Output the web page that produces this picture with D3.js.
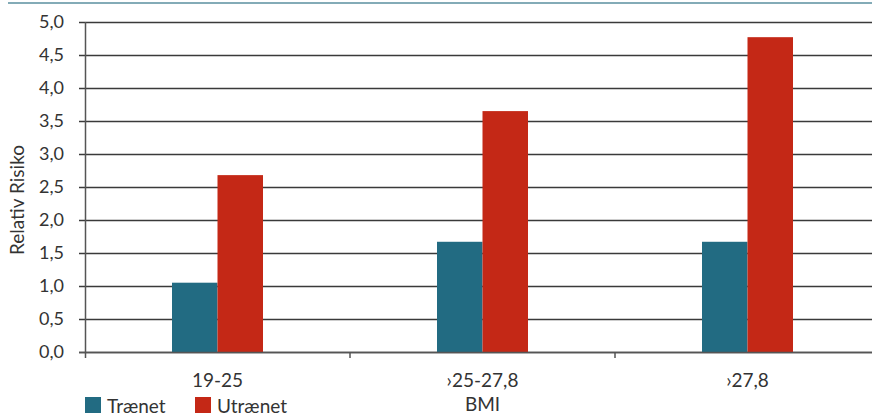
<!DOCTYPE html>
<html>
<head>
<meta charset="utf-8">
<script src="https://cdn.jsdelivr.net/npm/d3@7"></script>
<style>
  body { margin: 0; background: #fff; }
  text { font-family: Lato, "Noto Sans", sans-serif; fill: #333; }
</style>
</head>
<body>
<div id="chart"></div>
<script>
// Data
var categories = ["19-25", "\u203A25-27,8", "\u203A27,8"];
var seriesNames = ["Trænet", "Utrænet"];
var traenet = [1.05, 1.67, 1.67];
var utraenet = [2.68, 3.65, 4.77];
var yTicks = [0, 0.5, 1, 1.5, 2, 2.5, 3, 3.5, 4, 4.5, 5];
var colors = ["#226b82", "#c42816"];

var width = 872, height = 416;
var margin = {top: 22, left: 85, bottom: 64};
var fontSize = "19px";

var svg = d3.select("#chart").append("svg")
  .attr("width", width)
  .attr("height", height);

// top rule
svg.append("line")
  .attr("x1", 8).attr("x2", width)
  .attr("y1", 3).attr("y2", 3)
  .style("stroke", "#5a8f9f").style("stroke-width", 1.5);

// scales
var x = d3.scaleBand()
  .domain(categories)
  .range([margin.left, 880]);

var xSub = d3.scaleBand()
  .domain(seriesNames)
  .range([0, 91])
  .padding(0);

var y = d3.scaleLinear()
  .domain([0, 5])
  .range([352, margin.top]);

// gridlines
svg.append("g")
  .selectAll("line")
  .data(yTicks)
  .enter().append("line")
  .attr("x1", margin.left - 6)
  .attr("x2", width)
  .attr("y1", function(d) { return Math.round(y(d)) + 0.5; })
  .attr("y2", function(d) { return Math.round(y(d)) + 0.5; })
  .style("stroke", "#3a3a3a")
  .style("stroke-width", 1.3);

// y labels
svg.append("g")
  .selectAll("text")
  .data(yTicks)
  .enter().append("text")
  .attr("x", 64)
  .attr("y", function(d) { return y(d); })
  .attr("dy", "0.35em")
  .attr("text-anchor", "end")
  .style("font-size", "18px")
  .text(function(d) { return d3.format(".1f")(d).replace(".", ","); });

// bars
var data = categories.map(function(c, i) {
  return {cat: c, values: [
    {name: seriesNames[0], value: traenet[i]},
    {name: seriesNames[1], value: utraenet[i]}
  ]};
});

var groups = svg.selectAll(".grp")
  .data(data)
  .enter().append("g")
  .attr("class", "grp")
  .attr("transform", function(d) {
    return "translate(" + (x(d.cat) + x.bandwidth() / 2 - 45.5) + ",0)";
  });

groups.selectAll("rect")
  .data(function(d) { return d.values; })
  .enter().append("rect")
  .attr("x", function(d) { return xSub(d.name); })
  .attr("width", xSub.bandwidth())
  .attr("y", function(d) { return y(d.value); })
  .attr("height", function(d) { return y(0) - y(d.value); })
  .style("fill", function(d, i) { return colors[i]; });

// y axis line
svg.append("line")
  .attr("x1", margin.left + 0.5).attr("x2", margin.left + 0.5)
  .attr("y1", y(5)).attr("y2", y(0) + 6)
  .style("stroke", "#555").style("stroke-width", 1.5);

// x axis line
svg.append("line")
  .attr("x1", margin.left - 6).attr("x2", width)
  .attr("y1", Math.round(y(0)) + 0.5).attr("y2", Math.round(y(0)) + 0.5)
  .style("stroke", "#555").style("stroke-width", 1.5);

// category boundary ticks
svg.append("g")
  .selectAll("line")
  .data(categories.slice(1))
  .enter().append("line")
  .attr("x1", function(d) { return x(d); })
  .attr("x2", function(d) { return x(d); })
  .attr("y1", y(0))
  .attr("y2", y(0) + 6)
  .style("stroke", "#555").style("stroke-width", 1.5);

// x labels
svg.append("g")
  .selectAll("text")
  .data(categories)
  .enter().append("text")
  .attr("x", function(d) { return x(d) + x.bandwidth() / 2; })
  .attr("y", 387)
  .attr("text-anchor", "middle")
  .style("font-size", fontSize)
  .text(function(d) { return d; });

svg.append("text")
  .attr("x", x(categories[1]) + x.bandwidth() / 2)
  .attr("y", 411)
  .attr("text-anchor", "middle")
  .style("font-size", fontSize)
  .text("BMI");

// y title
svg.append("text")
  .attr("transform", "translate(24," + 200 + ") rotate(-90)")
  .attr("text-anchor", "middle")
  .style("font-size", fontSize)
  .text("Relativ Risiko");

// legend
var legendX = [85, 195];
var legend = svg.selectAll(".legend")
  .data(seriesNames)
  .enter().append("g")
  .attr("class", "legend")
  .attr("transform", function(d, i) { return "translate(" + legendX[i] + ",397)"; });

legend.append("rect")
  .attr("width", 16).attr("height", 16)
  .style("fill", function(d, i) { return colors[i]; });

legend.append("text")
  .attr("x", 22)
  .attr("y", 16)
  .style("font-size", fontSize)
  .text(function(d) { return d; });
</script>
</body>
</html>
